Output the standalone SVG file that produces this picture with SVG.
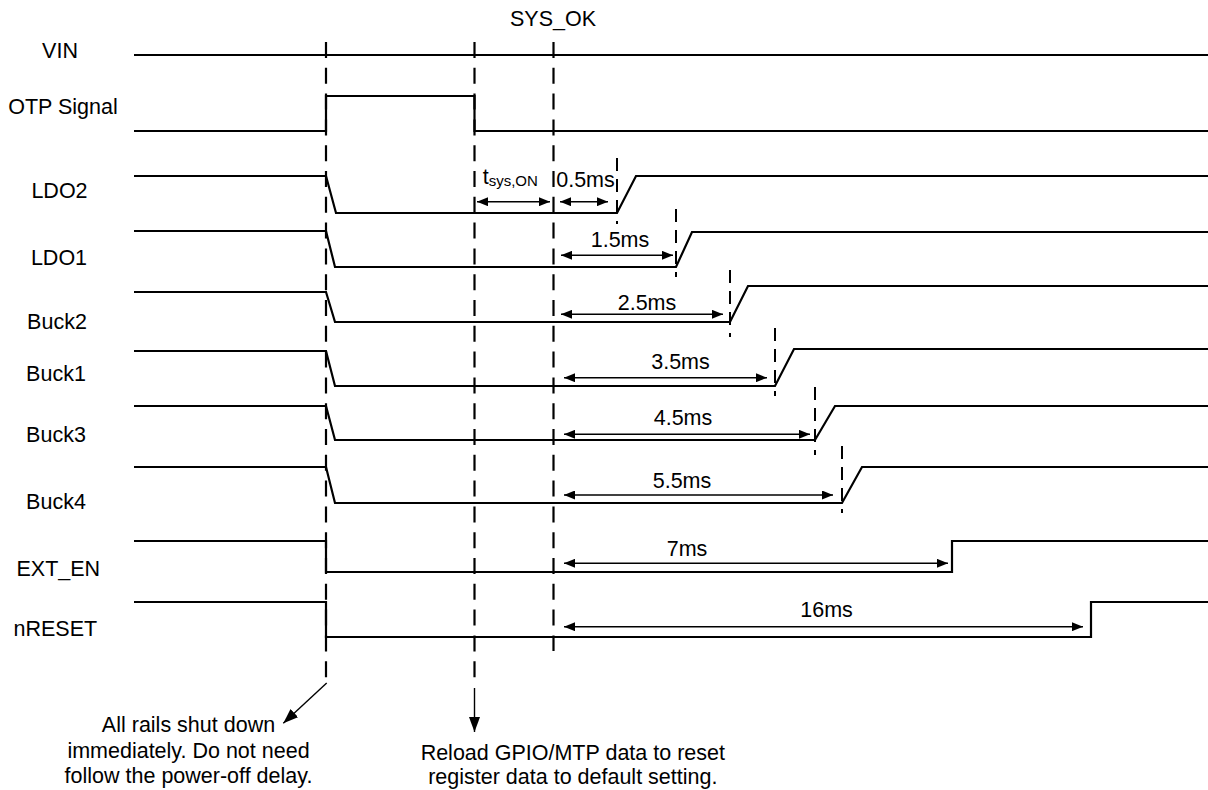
<svg xmlns="http://www.w3.org/2000/svg" width="1208" height="790" viewBox="0 0 1208 790">
<style>
text{font-family:"Liberation Sans",Arial,sans-serif;font-size:21.5px;fill:#000}
.lbl{text-anchor:middle}
.sig{fill:none;stroke:#000;stroke-width:2.2;stroke-linejoin:miter}
.vdash{fill:none;stroke:#000;stroke-width:2.2;stroke-dasharray:16 9.8}
.mdash{fill:none;stroke:#000;stroke-width:2;stroke-dasharray:13 8}
.dim{fill:none;stroke:#000;stroke-width:1.4;marker-start:url(#ah);marker-end:url(#ah)}
.call{fill:none;stroke:#000;stroke-width:1.4;marker-end:url(#big)}
</style>
<defs>
<marker id="ah" viewBox="0 0 11 9" refX="11" refY="4.5" markerWidth="11" markerHeight="9" markerUnits="userSpaceOnUse" orient="auto-start-reverse">
<path d="M0,0 L11,4.5 L0,9 z" fill="#000"/>
</marker>
<marker id="big" viewBox="0 0 15 11" refX="15" refY="5.5" markerWidth="15" markerHeight="11" markerUnits="userSpaceOnUse" orient="auto">
<path d="M0,0 L15,5.5 L0,11 z" fill="#000"/>
</marker>
</defs>
<g id="labels">
<text class="lbl" x="553" y="26">SYS_OK</text>
<text class="lbl" x="60" y="57.5">VIN</text>
<text class="lbl" x="63" y="114">OTP Signal</text>
<text class="lbl" x="59.5" y="198">LDO2</text>
<text class="lbl" x="59" y="265">LDO1</text>
<text class="lbl" x="57" y="329">Buck2</text>
<text class="lbl" x="56" y="381">Buck1</text>
<text class="lbl" x="56" y="442">Buck3</text>
<text class="lbl" x="56" y="509">Buck4</text>
<text class="lbl" x="58.3" y="575.5">EXT_EN</text>
<text class="lbl" x="55.3" y="635.5">nRESET</text>
</g>
<g id="signals">
<g id="vin"><path class="sig" d="M134,55 H1208"/></g>
<g id="otp"><path class="sig" d="M134,131 H326 V96 H474.5 V131 H1208"/></g>
<g id="ldo2"><path class="sig" d="M134,176 H326 L336,213 H617 L636,176 H1208"/></g>
<g id="ldo1"><path class="sig" d="M134,231 H326 L335,267 H676 L692,232 H1208"/></g>
<g id="buck2"><path class="sig" d="M134,292 H326 L335,322 H730 L748,286 H1208"/></g>
<g id="buck1"><path class="sig" d="M134,351 H326 L335,386 H775 L794,349 H1208"/></g>
<g id="buck3"><path class="sig" d="M134,406 H326 L335,440 H815 L835,406 H1208"/></g>
<g id="buck4"><path class="sig" d="M134,467 H326 L335,503 H842 L862,467 H1208"/></g>
<g id="ext_en"><path class="sig" d="M134,541 H326 V572 H952 V541 H1208"/></g>
<g id="nreset"><path class="sig" d="M134,602 H326 V637 H1091 V602 H1208"/></g>
</g>
<g id="guides">
<path class="vdash" d="M326,42 V678"/>
<path class="vdash" d="M474.5,42 V678"/>
<path class="vdash" d="M553.5,42 V651"/>
<path class="mdash" d="M617,158 V224"/>
<path class="mdash" d="M676,209 V277"/>
<path class="mdash" d="M730,270 V337"/>
<path class="mdash" d="M775,328 V396"/>
<path class="mdash" d="M815,387 V455"/>
<path class="mdash" d="M842,446 V513"/>
</g>
<g id="connectors">
<path class="dim" d="M477,201.7 H550"/>
<path class="dim" d="M560,201.7 H608"/>
<path class="dim" d="M561,255.3 H673"/>
<path class="dim" d="M561,314.3 H723"/>
<path class="dim" d="M564,377.7 H767"/>
<path class="dim" d="M564,434.3 H810"/>
<path class="dim" d="M564,495 H833"/>
<path class="dim" d="M564,563.3 H948"/>
<path class="dim" d="M564,626.7 H1083"/>
<path class="call" d="M326.7,683 L283.3,723.3"/>
<path class="call" d="M474.5,688 V732"/>
</g>
<g id="dimlabels">
<text x="482.7" y="184">t<tspan font-size="15" dy="2">sys,ON</tspan></text>
<text class="lbl" x="585.5" y="187">0.5ms</text>
<text class="lbl" x="620" y="247.3">1.5ms</text>
<text class="lbl" x="647" y="309.5">2.5ms</text>
<text class="lbl" x="680.5" y="369.3">3.5ms</text>
<text class="lbl" x="683" y="425">4.5ms</text>
<text class="lbl" x="682" y="488.3">5.5ms</text>
<text class="lbl" x="687" y="556">7ms</text>
<text class="lbl" x="826.6" y="617">16ms</text>
</g>
<g id="notes">
<text class="lbl" x="188.5"><tspan x="188.5" y="732">All rails shut down</tspan><tspan x="188.5" y="757.5">immediately. Do not need</tspan><tspan x="188.5" y="783">follow the power-off delay.</tspan></text>
<text class="lbl" x="572.8"><tspan x="572.8" y="760">Reload GPIO/MTP data to reset</tspan><tspan x="572.8" y="783.5">register data to default setting.</tspan></text>
</g>
</svg>
